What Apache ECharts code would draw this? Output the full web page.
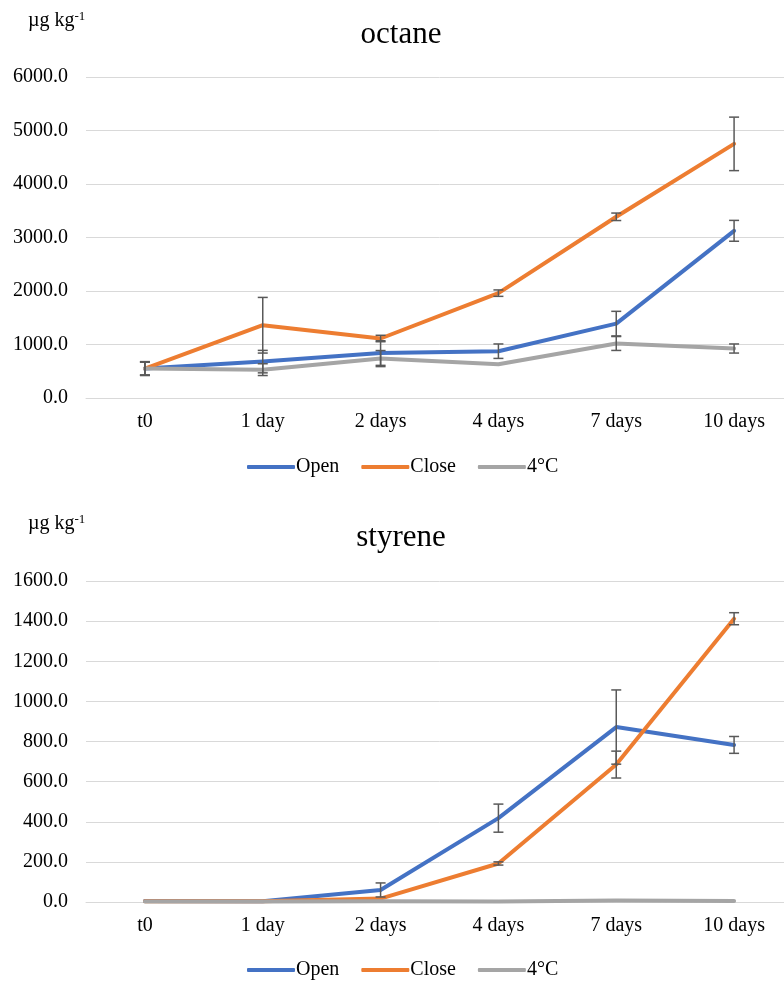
<!DOCTYPE html>
<html>
<head>
<meta charset="utf-8">
<script src="https://cdn.jsdelivr.net/npm/echarts@6/dist/echarts.min.js"></script>
<style>html,body{margin:0;padding:0;background:#fff;overflow:hidden}#c{width:800px;height:982px}</style>
</head>
<body>
<div id="c"></div>
<script>
const categories = ['t0', '1 day', '2 days', '4 days', '7 days', '10 days'];
const seriesNames = ['Open', 'Close', '4°C'];

const octaneOpen = [550, 680, 840, 875, 1390, 3125];
const octaneClose = [550, 1360, 1112, 1960, 3387, 4750];
const octaneCold = [550, 530, 737, 631, 1019, 925];
const octaneOpenErr = [130, 210, 230, 135, 230, 195];
const octaneCloseErr = [120, 520, 60, 60, 70, 500];
const octaneColdErr = [120, 110, 150, 0, 130, 85];

const styreneOpen = [5, 4, 60, 418, 872, 783];
const styreneClose = [4, 4, 17, 192, 685, 1412];
const styreneCold = [3, 3, 4, 3, 8, 5];
const styreneOpenErr = [0, 0, 35, 70, 185, 42];
const styreneCloseErr = [0, 0, 0, 8, 67, 30];
const styreneColdErr = [0, 0, 0, 0, 0, 0];

const octaneTicks = [0, 6000, 1000];
const styreneTicks = [0, 1600, 200];

const colors = ['#4472C4', '#ED7D31', '#A5A5A5'];
const serif = '"Liberation Serif", "Times New Roman", serif';

function errData(vals, errs) {
  const out = [];
  vals.forEach((v, i) => { if (errs[i] > 0) out.push([i, v - errs[i], v + errs[i]]); });
  return out;
}

function renderErr(params, api) {
  const lo = api.coord([api.value(0), api.value(1)]);
  const hi = api.coord([api.value(0), api.value(2)]);
  const w = 5;
  const st = { stroke: '#595959', lineWidth: 1.5 };
  return {
    type: 'group',
    children: [
      { type: 'line', shape: { x1: lo[0], y1: lo[1], x2: hi[0], y2: hi[1] }, style: st },
      { type: 'line', shape: { x1: lo[0] - w, y1: lo[1], x2: lo[0] + w, y2: lo[1] }, style: st },
      { type: 'line', shape: { x1: hi[0] - w, y1: hi[1], x2: hi[0] + w, y2: hi[1] }, style: st }
    ]
  };
}

const chart = echarts.init(document.getElementById('c'));

const grids = [
  { left: 86, width: 707, top: 77, height: 321 },
  { left: 86, width: 707, top: 581, height: 321 }
];

function xAxis(gi) {
  return {
    type: 'category', gridIndex: gi, data: categories,
    axisLine: { show: true, lineStyle: { color: '#d9d9d9', width: 1 } },
    axisTick: { show: false },
    axisLabel: { color: '#000', fontFamily: serif, fontSize: 20, margin: 14 }
  };
}
function yAxis(gi, t) {
  return {
    type: 'value', gridIndex: gi, min: t[0], max: t[1], interval: t[2],
    axisLine: { show: false }, axisTick: { show: false },
    splitLine: { lineStyle: { color: '#d9d9d9', width: 1 } },
    axisLabel: { color: '#000', fontFamily: serif, fontSize: 20, margin: 18, formatter: v => v.toFixed(1) }
  };
}

function lineSeries(name, data, gi, ci) {
  return {
    type: 'line', name: name, data: data, xAxisIndex: gi, yAxisIndex: gi,
    symbol: 'none', smooth: false,
    lineStyle: { color: colors[ci], width: 4, cap: 'round', join: 'round' },
    itemStyle: { color: colors[ci] },
    animation: false
  };
}
function errSeries(data, gi) {
  return {
    type: 'custom', name: 'err', xAxisIndex: gi, yAxisIndex: gi,
    renderItem: renderErr, data: data, encode: { x: 0, y: [1, 2] }, z: 5, animation: false
  };
}

function unitText(top) {
  return { type: 'text', left: 28, top: top, style: { text: 'µg kg{s|-1}', fontFamily: serif, fontSize: 20, fill: '#000', rich: { s: { fontSize: 13, verticalAlign: 'top', padding: [0, 0, 9, 0], fontFamily: serif, fill: '#000' } } } };
}
function legendAt(top) {
  return { data: seriesNames, left: 242, top: top, itemWidth: 48, itemHeight: 4, itemGap: 22, icon: 'roundRect', textStyle: { fontFamily: serif, fontSize: 20, color: '#000', padding: [0, 0, 0, -4] } };
}

const option = {
  backgroundColor: '#fff',
  animation: false,
  title: [
    { text: 'octane', left: 396, top: 14, textAlign: 'center', textStyle: { fontFamily: serif, fontSize: 31, fontWeight: 'normal', color: '#000' } },
    { text: 'styrene', left: 396, top: 517, textAlign: 'center', textStyle: { fontFamily: serif, fontSize: 31, fontWeight: 'normal', color: '#000' } }
  ],
  graphic: [unitText(10), unitText(513)],
  legend: [legendAt(452), legendAt(955)],
  grid: grids,
  xAxis: [xAxis(0), xAxis(1)],
  yAxis: [yAxis(0, octaneTicks), yAxis(1, styreneTicks)],
  series: [
    lineSeries(seriesNames[0], octaneOpen, 0, 0),
    lineSeries(seriesNames[1], octaneClose, 0, 1),
    lineSeries(seriesNames[2], octaneCold, 0, 2),
    errSeries(errData(octaneOpen, octaneOpenErr), 0),
    errSeries(errData(octaneClose, octaneCloseErr), 0),
    errSeries(errData(octaneCold, octaneColdErr), 0),
    lineSeries(seriesNames[0], styreneOpen, 1, 0),
    lineSeries(seriesNames[1], styreneClose, 1, 1),
    lineSeries(seriesNames[2], styreneCold, 1, 2),
    errSeries(errData(styreneOpen, styreneOpenErr), 1),
    errSeries(errData(styreneClose, styreneCloseErr), 1),
    errSeries(errData(styreneCold, styreneColdErr), 1)
  ]
};
chart.setOption(option);
</script>
</body>
</html>
